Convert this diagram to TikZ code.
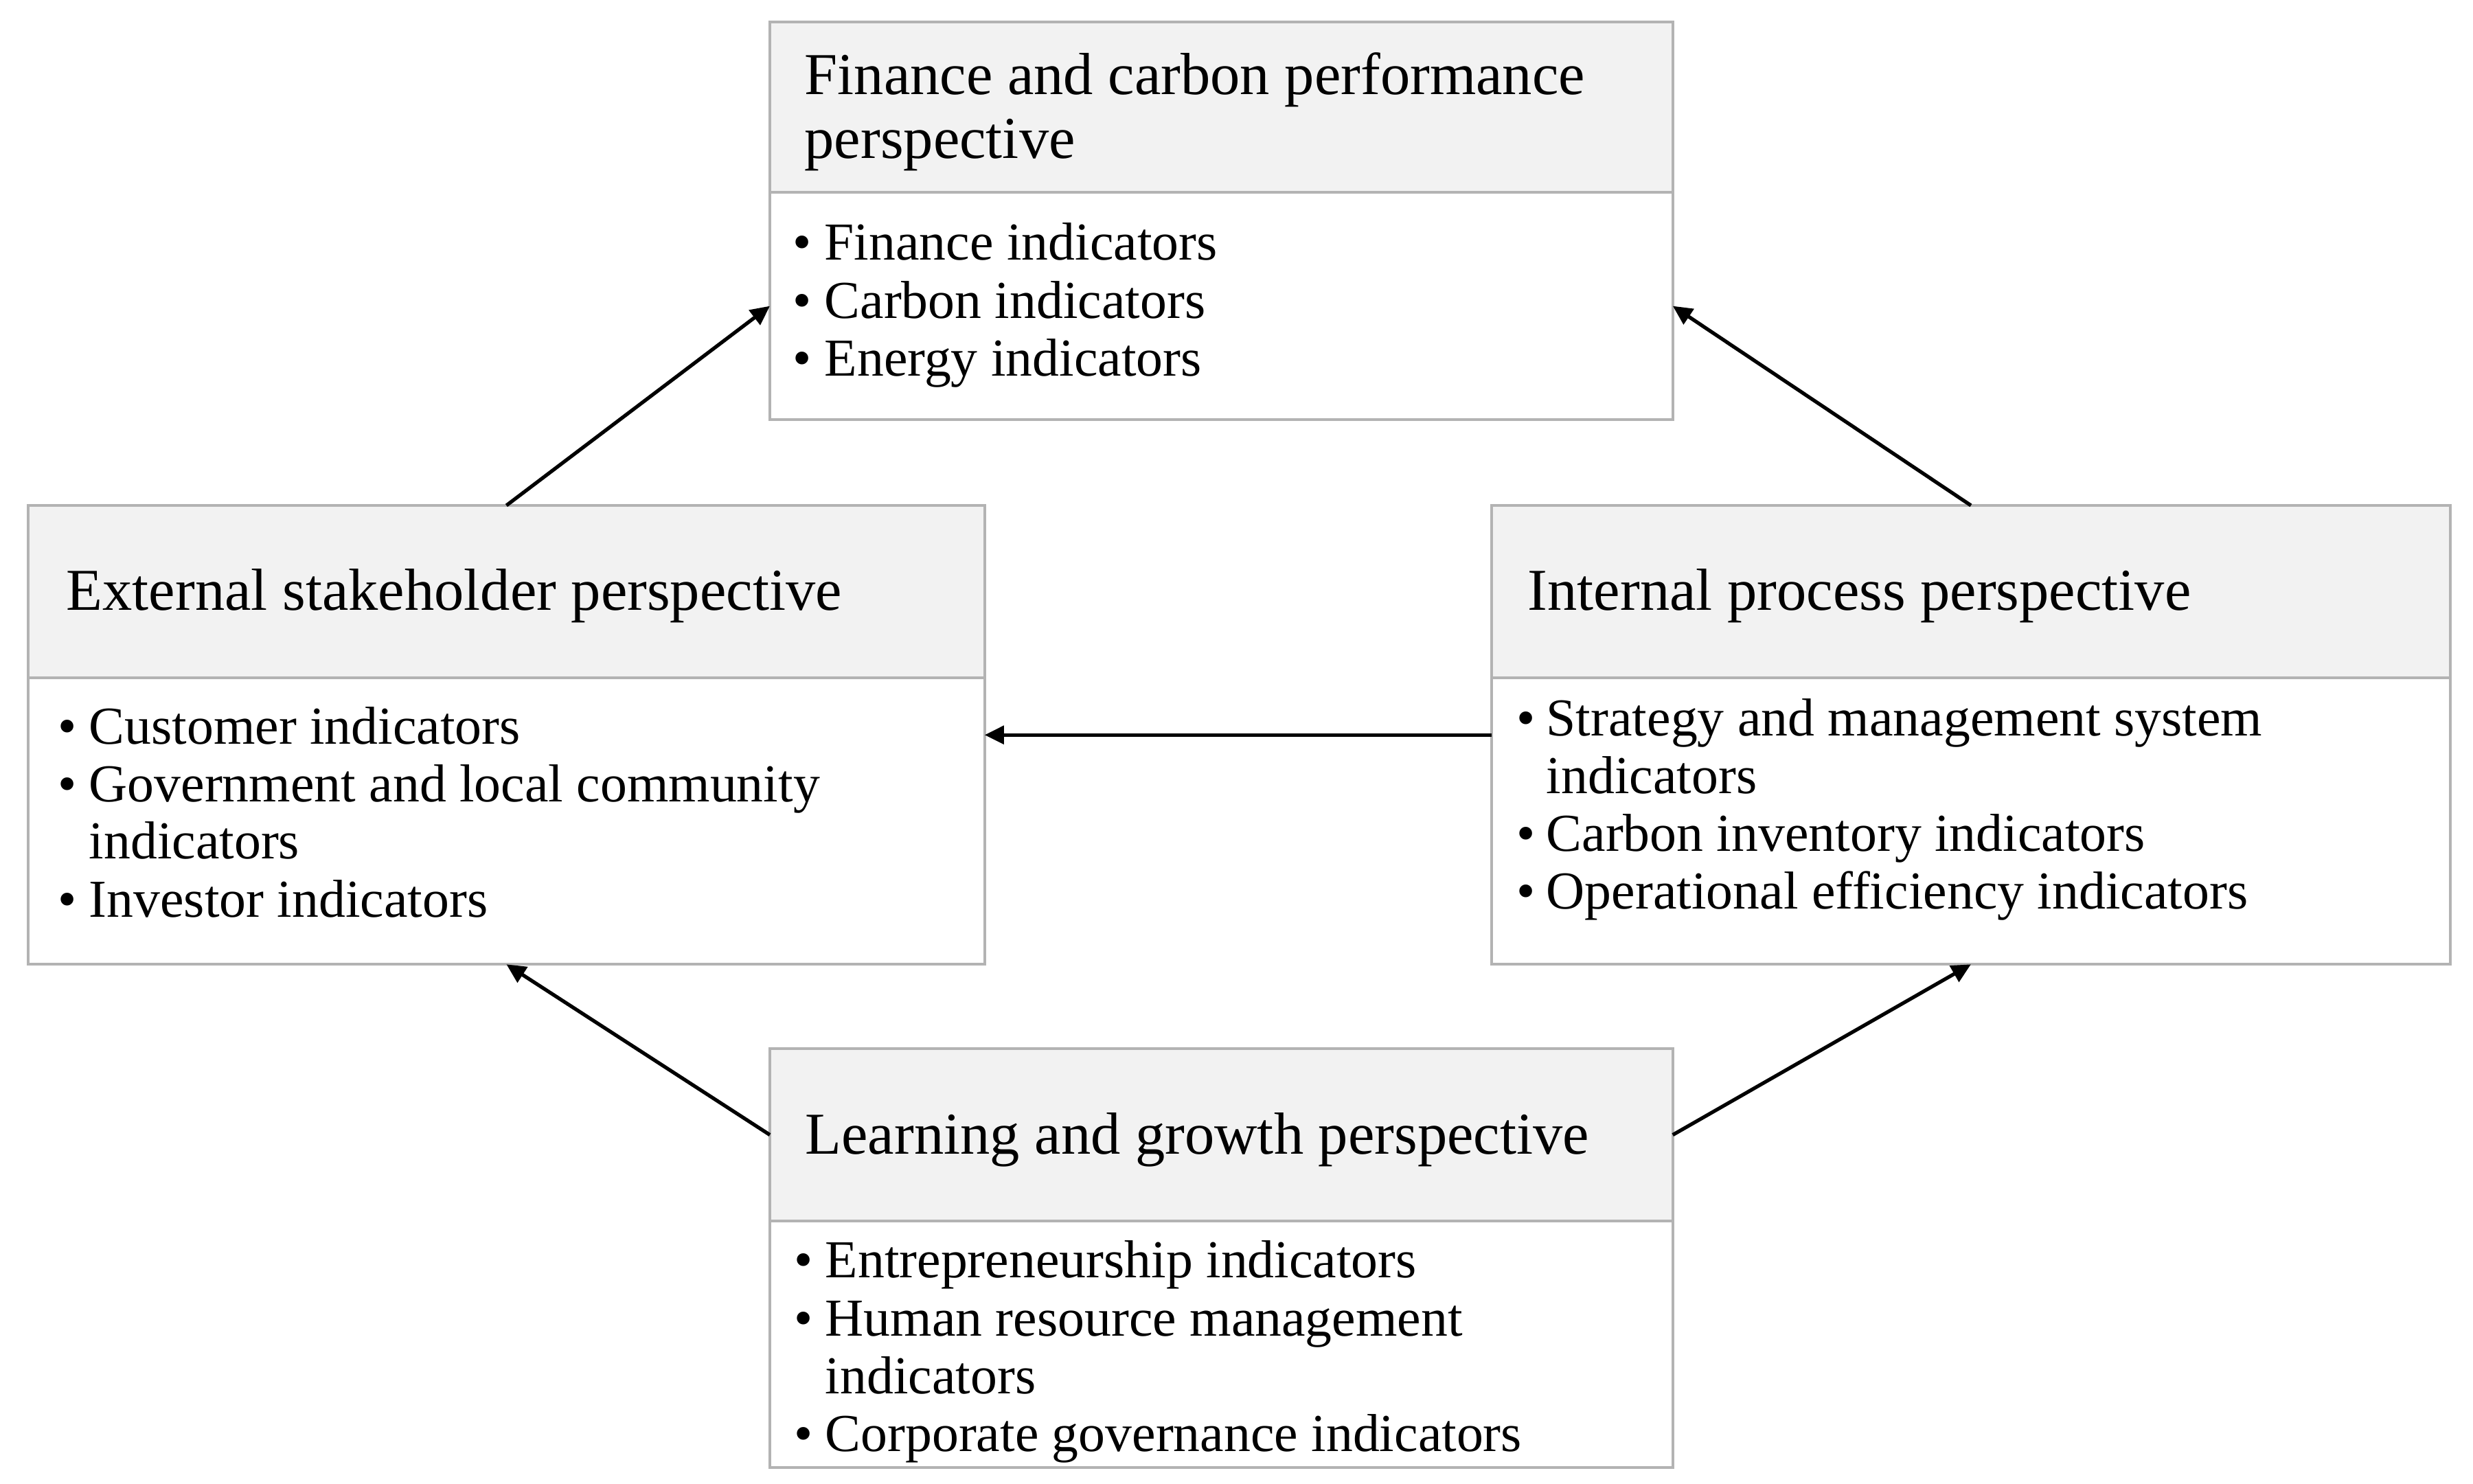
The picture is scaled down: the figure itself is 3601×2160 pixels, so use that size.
\documentclass[tikz,border=0pt]{standalone}
\usepackage{fontspec}
\setmainfont{Liberation Serif}
\usetikzlibrary{arrows.meta}
\definecolor{bordergray}{HTML}{B3B3B3}
\definecolor{headgray}{HTML}{F2F2F2}
\begin{document}
\begin{tikzpicture}[x=0.01cm,y=-0.01cm,
  boxframe/.style={inner sep=0pt,outer sep=0pt,anchor=north west},
  headfill/.style={fill=headgray,draw=bordergray,line width=1.1pt,inner sep=0pt,outer sep=0pt,anchor=north west},
  bodyfill/.style={draw=bordergray,line width=1.1pt,inner sep=0pt,outer sep=0pt,anchor=north west},
  headtext/.style={anchor=base west,inner sep=0pt,font=\fontsize{24.6}{29}\selectfont},
  itemtext/.style={anchor=base west,inner sep=0pt,font=\fontsize{22.1}{26}\selectfont},
  conn/.style={-{Triangle[length=8pt,width=7.5pt]},line width=1.5pt}]
\useasboundingbox (0,0) rectangle (3601,2160);

% ---- Finance and carbon performance (top)
\node[boxframe,minimum width=13.14cm,minimum height=5.79cm] (fframe) at (1121,32) {};
\node[headfill,minimum width=13.14cm,minimum height=2.48cm] (fhead) at (1121,32) {};
\node[bodyfill,minimum width=13.14cm,minimum height=3.31cm] (fbody) at (1121,280) {};
\node[headtext] (ft1) at (1171,137) {Finance and carbon performance};
\node[headtext] (ft2) at (1171,230) {perspective};
\node[itemtext] (fb1) at (1154,378) {•};
\node[itemtext] (fi1) at (1200,378) {Finance indicators};
\node[itemtext] (fb2) at (1154,463) {•};
\node[itemtext] (fi2) at (1200,463) {Carbon indicators};
\node[itemtext] (fb3) at (1154,547) {•};
\node[itemtext] (fi3) at (1200,547) {Energy indicators};

% ---- External stakeholder (left)
\node[boxframe,minimum width=13.92cm,minimum height=6.68cm] (eframe) at (41,736) {};
\node[headfill,minimum width=13.92cm,minimum height=2.51cm] (ehead) at (41,736) {};
\node[bodyfill,minimum width=13.92cm,minimum height=4.17cm] (ebody) at (41,987) {};
\node[headtext] (et1) at (96,888) {External stakeholder perspective};
\node[itemtext] (eb1) at (84,1083) {•};
\node[itemtext] (ei1) at (129,1083) {Customer indicators};
\node[itemtext] (eb2) at (84,1167) {•};
\node[itemtext] (ei2) at (129,1167) {Government and local community};
\node[itemtext] (ei2b) at (129,1250) {indicators};
\node[itemtext] (eb3) at (84,1335) {•};
\node[itemtext] (ei3) at (129,1335) {Investor indicators};

% ---- Internal process (right)
\node[boxframe,minimum width=13.95cm,minimum height=6.68cm] (iframe) at (2172,736) {};
\node[headfill,minimum width=13.95cm,minimum height=2.51cm] (ihead) at (2172,736) {};
\node[bodyfill,minimum width=13.95cm,minimum height=4.17cm] (ibody) at (2172,987) {};
\node[headtext] (it1) at (2224,888) {Internal process perspective};
\node[itemtext] (ib1) at (2208,1071) {•};
\node[itemtext] (ii1) at (2251,1071) {Strategy and management system};
\node[itemtext] (ii1b) at (2251,1155) {indicators};
\node[itemtext] (ib2) at (2208,1239) {•};
\node[itemtext] (ii2) at (2251,1239) {Carbon inventory indicators};
\node[itemtext] (ib3) at (2208,1323) {•};
\node[itemtext] (ii3) at (2251,1323) {Operational efficiency indicators};

% ---- Learning and growth (bottom)
\node[boxframe,minimum width=13.14cm,minimum height=6.10cm] (lframe) at (1121,1527) {};
\node[headfill,minimum width=13.14cm,minimum height=2.51cm] (lhead) at (1121,1527) {};
\node[bodyfill,minimum width=13.14cm,minimum height=3.59cm] (lbody) at (1121,1778) {};
\node[headtext] (lt1) at (1172,1680) {Learning and growth perspective};
\node[itemtext] (lb1) at (1156,1860) {•};
\node[itemtext] (li1) at (1201,1860) {Entrepreneurship indicators};
\node[itemtext] (lb2) at (1156,1945) {•};
\node[itemtext] (li2) at (1201,1945) {Human resource management};
\node[itemtext] (li2b) at (1201,2029) {indicators};
\node[itemtext] (lb3) at (1156,2113) {•};
\node[itemtext] (li3) at (1201,2113) {Corporate governance indicators};

% ---- connectors
\draw[conn] (ehead.north) -- (fbody.west);
\draw[conn] (ihead.north) -- (fbody.east);
\draw[conn] (iframe.west) -- (eframe.east);
\draw[conn] (lhead.west) -- (ebody.south);
\draw[conn] (lhead.east) -- (ibody.south);
\end{tikzpicture}
\end{document}
